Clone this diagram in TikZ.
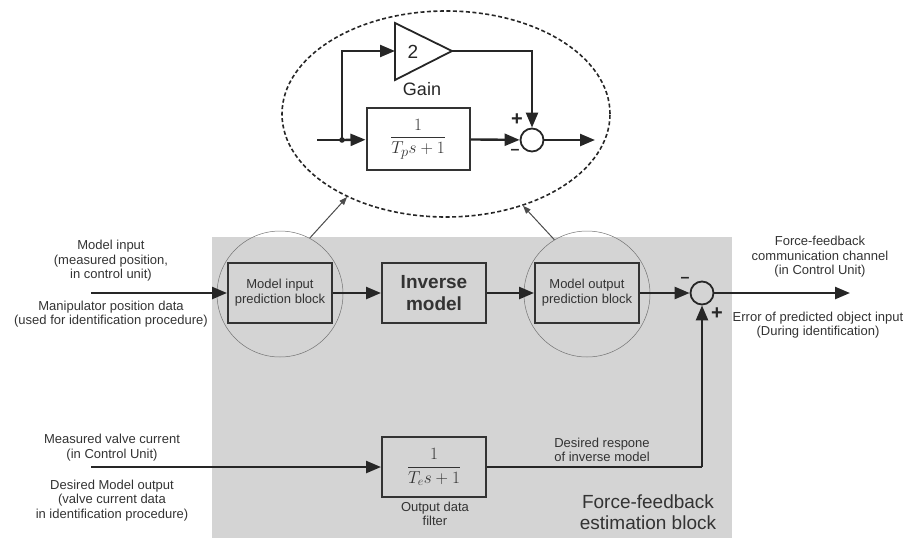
\documentclass[tikz,border=0pt]{standalone}
\usepackage{fontspec}
\setmainfont{Liberation Sans}
\usetikzlibrary{arrows.meta,shapes.geometric}
\newcommand\fsz[2]{\fontsize{#1}{#2}\selectfont}

\begin{document}
\begin{tikzpicture}[x=1pt,y=-1pt,
  blk/.style={draw=black!80, line width=2pt, minimum width=104pt, minimum height=60pt,
              inner sep=0pt, align=center, text=black!80},
  sig/.style={line width=2.4pt, draw=black!85, -{Triangle[length=15pt,width=12pt]}},
  wire/.style={line width=2.4pt, draw=black!85},
  sumnode/.style={circle, draw=black!85, line width=1.8pt, minimum size=23pt, inner sep=0pt},
  lbl/.style={text=black!80, align=center, font=\fsz{13}{14.5}},
  sgn/.style={text=black!85, font=\bfseries\fsz{20}{20}, inner sep=0pt},
  lens/.style={circle, draw=black!55, line width=0.5pt, minimum size=126pt, inner sep=0pt},
  pointer/.style={draw=black!70, line width=1pt, -{Triangle[length=8pt,width=6pt]}},
]
\useasboundingbox (0,0) rectangle (907,538);

% shaded estimation block
\fill[black!17] (212,237) rectangle (732,538);

% ---------- main signal chain ----------
\coordinate (in1) at (91,293);
\node[blk, font=\fsz{13}{15}] (mip) at (280,293) {Model input\\prediction block};
\node[blk, font=\bfseries\fsz{19}{22}] (inv) at (434,293) {Inverse\\model};
\node[blk, font=\fsz{13}{15}] (mop) at (587,293) {Model output\\prediction block};
\node[sumnode] (sum) at (702,293) {};
\coordinate (out1) at (850,293);

\node[lens] (cL) at (280,294) {};
\node[lens] (cR) at (587,294) {};

\draw[sig] (in1) -- (mip);
\draw[sig] (mip) -- (inv);
\draw[sig] (inv) -- (mop);
\draw[sig] (mop) -- (sum);
\draw[sig] (sum) -- (out1);

\node[sgn, font=\bfseries\fsz{16}{16}] at (685,280) {–};
\node[sgn] at (717,314) {+};

% ---------- reference path ----------
\coordinate (in2) at (91,467);
\node[blk, minimum height=60pt] (filt) at (434,467)
  {\fsz{18}{18}$\displaystyle\frac{1}{T_e s+1}$};
\coordinate (corner) at (702,467);
\draw[sig] (in2) -- (filt);
\draw[wire] (filt.east) -- (corner);
\draw[sig] (corner) -- (sum);

% ---------- labels ----------
\node[lbl] at (111,261) {Model input\\(measured position,\\in control unit)};
\node[lbl] at (111,314) {Manipulator position data\\(used for identification procedure)};
\node[lbl] at (112,447.5) {Measured valve current\\(in Control Unit)};
\node[lbl] at (112,500.5) {Desired Model output\\(valve current data\\in identification procedure)};
\node[lbl] at (435,514) {Output data\\filter};
\node[lbl] at (602,450) {Desired respone\\of inverse model};
\node[lbl] at (820,257) {Force-feedback\\communication channel\\(in Control Unit)};
\node[lbl] at (818,325) {Error of predicted object input\\(During identification)};
\node[text=black!80, align=center, font=\fsz{19}{21}] at (648,512.5) {Force-feedback\\estimation block};

% ---------- detail of the prediction block ----------
\node[ellipse, draw=black!85, line width=1.6pt, dash pattern=on 4pt off 2.5pt,
      minimum width=328pt, minimum height=206pt, inner sep=0pt] (ell) at (446,114) {};

\draw[pointer] (cL.62) -- (ell.220);
\draw[pointer] (cR.121) -- (ell.-50);

\coordinate (ein) at (317,140);
\coordinate (br) at (342,140);
\node[blk, minimum width=103pt, minimum height=62pt] (tp) at (418,139)
  {\fsz{19}{19}$\displaystyle\frac{1}{T_p s+1}$};
\node[sumnode] (sum2) at (532,140) {};
\coordinate (eout) at (595,140);

% gain triangle
\coordinate (gin) at (395,51);
\coordinate (gout) at (452,51);
\draw[draw=black!85, line width=1.8pt, line join=miter] (395,23) -- (gout) -- (395,80) -- cycle;
\node[text=black!85, font=\fsz{19}{19}] at (413,52) {2};
\node[text=black!85, font=\fsz{18}{18}] at (422,89) {Gain};

\draw[wire] (ein) -- (br);
\draw[sig] (br) -- (tp);
\fill[black!85] (br) circle (2.8pt);
\draw[sig] (br) |- (gin);
\draw[sig] (gout) -| (sum2);
\draw[sig] (tp) -- (sum2);
\draw[sig] (sum2) -- (eout);

\node[sgn] at (517,120) {+};
\node[sgn, font=\bfseries\fsz{16}{16}] at (515,152) {–};
\end{tikzpicture}
\end{document}
